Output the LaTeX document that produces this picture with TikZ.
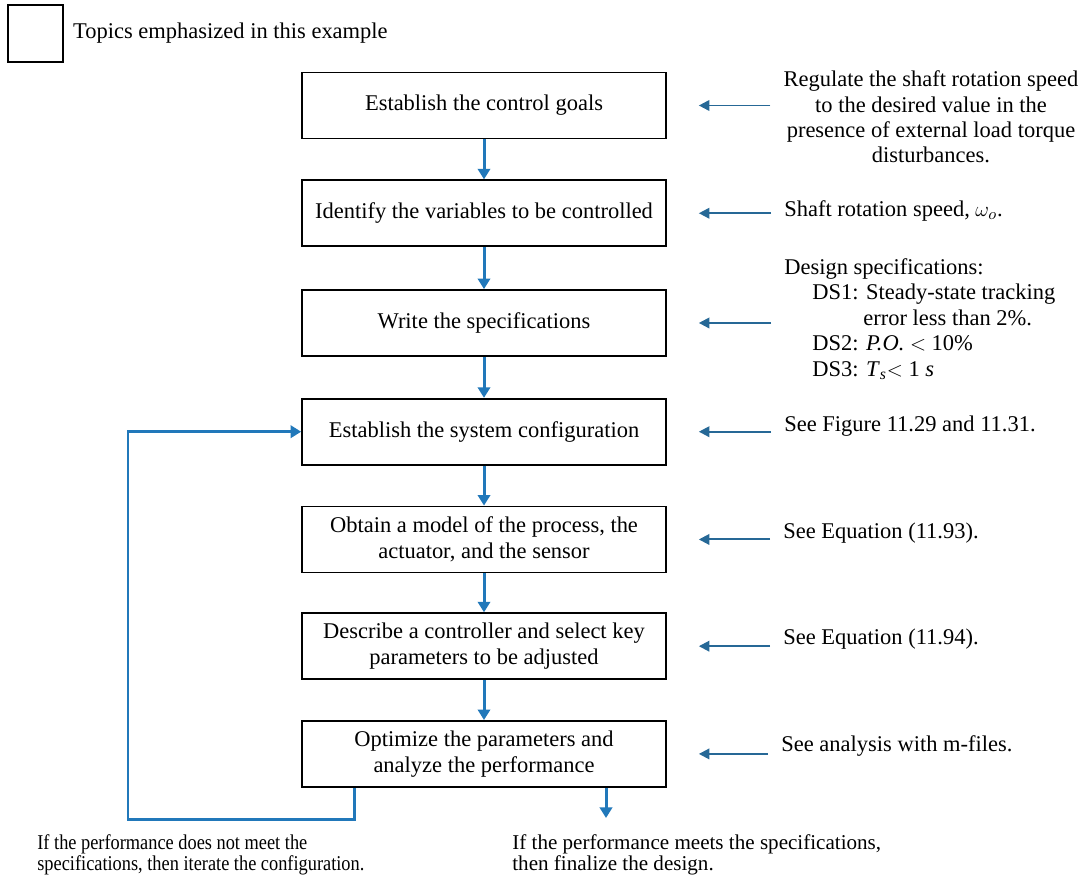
\documentclass[tikz,border=0pt]{standalone}
\usepackage{fontspec}
\setmainfont{Liberation Serif}
\newfontfamily\narrowserif[FakeStretch=0.87]{Liberation Serif}
\usetikzlibrary{arrows.meta, positioning, calc}
\definecolor{flowblue}{RGB}{33,120,186}
\definecolor{noteblue}{RGB}{38,104,150}

\begin{document}
\begin{tikzpicture}[
    x=0.02cm, y=-0.02cm,
    stepbox/.style={rectangle, draw=black, line width=1pt, minimum width=7.28cm, minimum height=1.32cm, align=center, font=\fontsize{12.8}{14.8}\selectfont},
    legendbox/.style={rectangle, draw=black, line width=1pt, minimum width=1.1cm, minimum height=1.14cm},
    flow/.style={-{Triangle[width=7pt, length=6pt]}, line width=1.7pt, draw=flowblue},
    inarrow/.style={-{Triangle[width=6pt, length=6pt]}, line width=1.1pt, draw=noteblue, shorten <=0.26cm, shorten >=0.64cm},
    note/.style={font=\fontsize{12.8}{14.5}\selectfont, align=left, inner sep=0pt, anchor=west},
    outcome/.style={font=\fontsize{12}{12}\selectfont, align=left, inner sep=0pt, anchor=north west}
]
    % Frame of the picture
    \useasboundingbox (0,0) rectangle (1091,878);

    % Legend
    \node[legendbox] (legend) at (35.5,33.5) {};
    \node[note, right=0.18cm of legend] (legendtext) {Topics emphasized in this example};

    % Design steps
    \node[stepbox] (goals) at (484,105.5) {Establish the control goals};
    \node[stepbox, below=0.8cm of goals] (variables) {Identify the variables to be controlled};
    \node[stepbox, below=0.84cm of variables] (specs) {Write the specifications};
    \node[stepbox, below=0.82cm of specs] (config) {Establish the system configuration};
    \node[stepbox, below=0.8cm of config] (model) {Obtain a model of the process, the\\actuator, and the sensor};
    \node[stepbox, below=0.78cm of model] (controller) {Describe a controller and select key\\parameters to be adjusted};
    \node[stepbox, below=0.8cm of controller] (optimize) {Optimize the parameters and\\analyze the performance};

    % Flow between the steps
    \draw[flow] (goals) -- (variables);
    \draw[flow] (variables) -- (specs);
    \draw[flow] (specs) -- (config);
    \draw[flow] (config) -- (model);
    \draw[flow] (model) -- (controller);
    \draw[flow] (controller) -- (optimize);

    % Notes on the right
    \node[note, align=center, anchor=center] (goalnote) at (931,117)
        {Regulate the shaft rotation speed\\to the desired value in the\\presence of external load torque\\disturbances.};
    \node[note] (varnote) at (784,211) {Shaft rotation speed, $\omega_o$.};
    \node[note] (specnote) at (784,319)
        {Design specifications:\\
         \hspace*{0.56cm}DS1: Steady-state tracking\\
         \hspace*{1.58cm}error less than 2\%.\\
         \hspace*{0.56cm}DS2: \textit{P.O.} $<$ 10\%\\
         \hspace*{0.56cm}DS3: \textit{T}\textsubscript{\textit{s}}$<$ 1 \textit{s}};
    \node[note] (confignote) at (784,426.5) {See Figure 11.29 and 11.31.};
    \node[note] (modelnote) at (783,533.5) {See Equation (11.93).};
    \node[note] (ctrlnote) at (783,639) {See Equation (11.94).};
    \node[note] (optnote) at (781,746) {See analysis with m-files.};

    % Arrows from the notes
    \draw[inarrow] (goals.east -| goalnote.west) -- (goals.east);
    \draw[inarrow] (variables.east -| varnote.west) -- (variables.east);
    \draw[inarrow] (specs.east -| specnote.west) -- (specs.east);
    \draw[inarrow] (config.east -| confignote.west) -- (config.east);
    \draw[inarrow] (model.east -| modelnote.west) -- (model.east);
    \draw[inarrow] (controller.east -| ctrlnote.west) -- (controller.east);
    \draw[inarrow] (optimize.east -| optnote.west) -- (optimize.east);

    % Outcomes of the optimization
    \coordinate (turn) at (128,819);
    \coordinate (finish) at (606,818);
    \draw[flow] ([xshift=-2.6cm]optimize.south) |- (turn) |- (config.west);
    \draw[flow] (optimize.south -| finish) -- (finish);

    \node[outcome, font=\narrowserif\fontsize{12}{12}\selectfont] (iteratenote) at (37,834)
        {If the performance does not meet the\\specifications, then iterate the configuration.};
    \node[outcome] (finishnote) at (512,834)
        {If the performance meets the specifications,\\then finalize the design.};

\end{tikzpicture}
\end{document}
